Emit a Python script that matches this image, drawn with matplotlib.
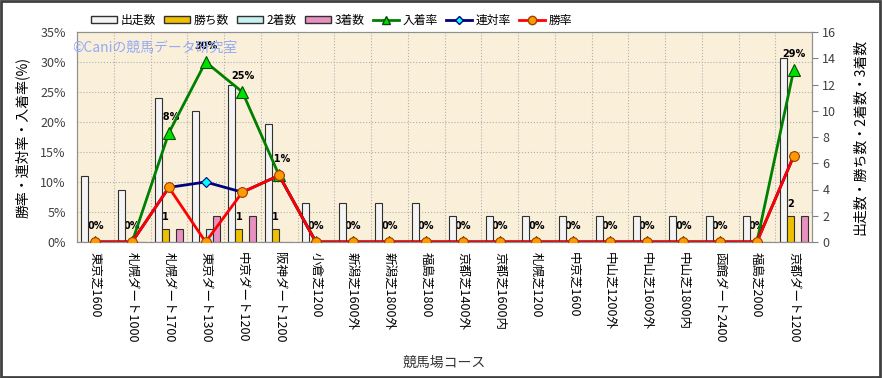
import numpy as np
import matplotlib.pyplot as plt
from matplotlib.patches import Patch, Rectangle
from matplotlib.lines import Line2D
from matplotlib.transforms import blended_transform_factory

plt.rcParams['font.family'] = ['Noto Sans CJK JP', 'DejaVu Sans']

courses = ["東京芝1600", "札幌ダート1000", "札幌ダート1700", "東京ダート1300",
           "中京ダート1200", "阪神ダート1200", "小倉芝1200", "新潟芝1600外",
           "新潟芝1800外", "福島芝1800", "京都芝1400外", "京都芝1600内",
           "札幌芝1200", "中京芝1600", "中山芝1200外", "中山芝1600外",
           "中山芝1800内", "函館ダート2400", "福島芝2000", "京都ダート1200"]
starts = [5, 4, 11, 10, 12, 9, 3, 3, 3, 3, 2, 2, 2, 2, 2, 2, 2, 2, 2, 14]
wins = [0, 0, 1, 0, 1, 1, 0, 0, 0, 0, 0, 0, 0, 0, 0, 0, 0, 0, 0, 2]
seconds = [0, 0, 0, 1, 0, 0, 0, 0, 0, 0, 0, 0, 0, 0, 0, 0, 0, 0, 0, 0]
thirds = [0, 0, 1, 2, 2, 0, 0, 0, 0, 0, 0, 0, 0, 0, 0, 0, 0, 0, 0, 2]
place_rate = [0, 0, 18.2, 30.0, 25.0, 11.1, 0, 0, 0, 0, 0, 0, 0, 0, 0, 0, 0, 0, 0, 28.6]
rentai_rate = [0, 0, 9.1, 10.0, 8.3, 11.1, 0, 0, 0, 0, 0, 0, 0, 0, 0, 0, 0, 0, 0, 14.3]
win_rate = [0, 0, 9.1, 0, 8.3, 11.1, 0, 0, 0, 0, 0, 0, 0, 0, 0, 0, 0, 0, 0, 14.3]

fig = plt.figure(figsize=(8.82, 3.78), dpi=100)
ax = fig.add_axes([77/882, 136/378, 735/882, 210/378])
ax2 = ax.twinx()
# bars live on ax (right scale), rates on ax2 drawn on top (left scale)
ax.yaxis.tick_right()
ax.yaxis.set_label_position('right')
ax2.yaxis.tick_left()
ax2.yaxis.set_label_position('left')

ax.set_facecolor('#FAF0DA')
x = np.arange(len(courses))
w = 0.19
edge = '#303030'
ax.bar(x - 1.5*w, starts, w, color='#F4F4F4', edgecolor=edge, lw=0.8, zorder=2)
ax.bar(x - 0.5*w, wins, w, color='#F0C000', edgecolor=edge, lw=0.8, zorder=2)
ax.bar(x + 0.5*w, seconds, w, color='#C8F0F0', edgecolor=edge, lw=0.8, zorder=2)
ax.bar(x + 1.5*w, thirds, w, color='#E890C0', edgecolor=edge, lw=0.8, zorder=2)

# grid under the bars, horizontal lines follow the left (%) scale
hz = blended_transform_factory(ax.transAxes, ax2.transData)
for v in range(5, 35, 5):
    ax.plot([0, 1], [v, v], transform=hz, color='#B0B0B0', lw=0.8, ls=':', zorder=0.5)
for k in range(len(courses) - 1):
    ax.axvline(k + 0.5, color='#B0B0B0', lw=0.8, ls=':', zorder=0.5)

ax2.plot(x, place_rate, color='#008000', lw=2, marker='^', ms=8,
         mfc='#00E000', mec='#005000', mew=0.8, zorder=3)
ax2.plot(x, rentai_rate, color='#000080', lw=2, marker='D', ms=5,
         mfc='#00FFFF', mec='#000080', mew=0.8, zorder=4)
ax2.plot(x, win_rate, color='#FF0000', lw=2, marker='o', ms=7,
         mfc='#FF9900', mec='#A04000', mew=0.8, zorder=5)

for i, v in enumerate(place_rate):
    ax.annotate(f"{v:.0f}%", (i, v), xycoords=ax2.transData, xytext=(0, 11.5),
                textcoords='offset points', ha='center', va='center',
                fontsize=7, fontweight='bold', family='DejaVu Sans', zorder=1.5)
for i, n in enumerate(wins):
    if n > 0:
        ax.annotate(str(n), (i - 0.5*w, n), xytext=(0, 8.5), textcoords='offset points',
                    ha='center', va='center', fontsize=7, fontweight='bold',
                    family='DejaVu Sans', zorder=1.5)

ax.set_xlim(-0.5, len(courses) - 0.5)
ax.set_ylim(0, 16)
ax.set_yticks(range(0, 17, 2))
ax2.set_ylim(0, 35)
ax2.set_yticks(range(0, 36, 5))
ax2.set_yticklabels([f"{t}%" for t in range(0, 36, 5)])
ax.set_xticks(x)
ax.set_xticklabels(courses, rotation=-90, fontsize=9)
ax.tick_params(axis='x', length=0, pad=7)
ax.tick_params(axis='y', length=4, color='#808080', labelsize=9, labelcolor='#404040')
ax2.tick_params(axis='y', length=0, labelsize=9, labelcolor='#404040', pad=8)
for s in ax.spines.values():
    s.set_color('#909090')
for s in ax2.spines.values():
    s.set_color('#909090')

ax.set_ylabel("出走数・勝ち数・2着数・3着数", fontsize=10, rotation=90, labelpad=12)
ax2.set_ylabel("勝率・連対率・入着率(%)", fontsize=10, labelpad=8)
ax.set_xlabel("競馬場コース", fontsize=10, color='#333333', labelpad=10)

ax2.text(-0.006, 0.924, "©Caniの競馬データ研究室", transform=ax2.transAxes,
         color='#94AAF4', fontsize=10, va='center', ha='left', zorder=6)

handles = [
    Patch(facecolor='#F4F4F4', edgecolor=edge, label='出走数'),
    Patch(facecolor='#F0C000', edgecolor=edge, label='勝ち数'),
    Patch(facecolor='#C8F0F0', edgecolor=edge, label='2着数'),
    Patch(facecolor='#E890C0', edgecolor=edge, label='3着数'),
    Line2D([], [], color='#008000', lw=2, marker='^', ms=6, mfc='#00E000', mec='#005000', label='入着率'),
    Line2D([], [], color='#000080', lw=2, marker='D', ms=4, mfc='#00FFFF', mec='#000080', label='連対率'),
    Line2D([], [], color='#FF0000', lw=2, marker='o', ms=6, mfc='#FF9900', mec='#A04000', label='勝率'),
]
fig.legend(handles=handles, loc='center', bbox_to_anchor=(0.376, 0.947), ncol=7,
           frameon=False, fontsize=8.5, handlelength=2.2, handleheight=0.5,
           handletextpad=0.3, columnspacing=0.7)

fig.add_artist(Rectangle((0.001, 0.002), 0.997, 0.995, transform=fig.transFigure,
                         fill=False, edgecolor='#404040', lw=2))

fig.savefig("out.png", dpi=100)
